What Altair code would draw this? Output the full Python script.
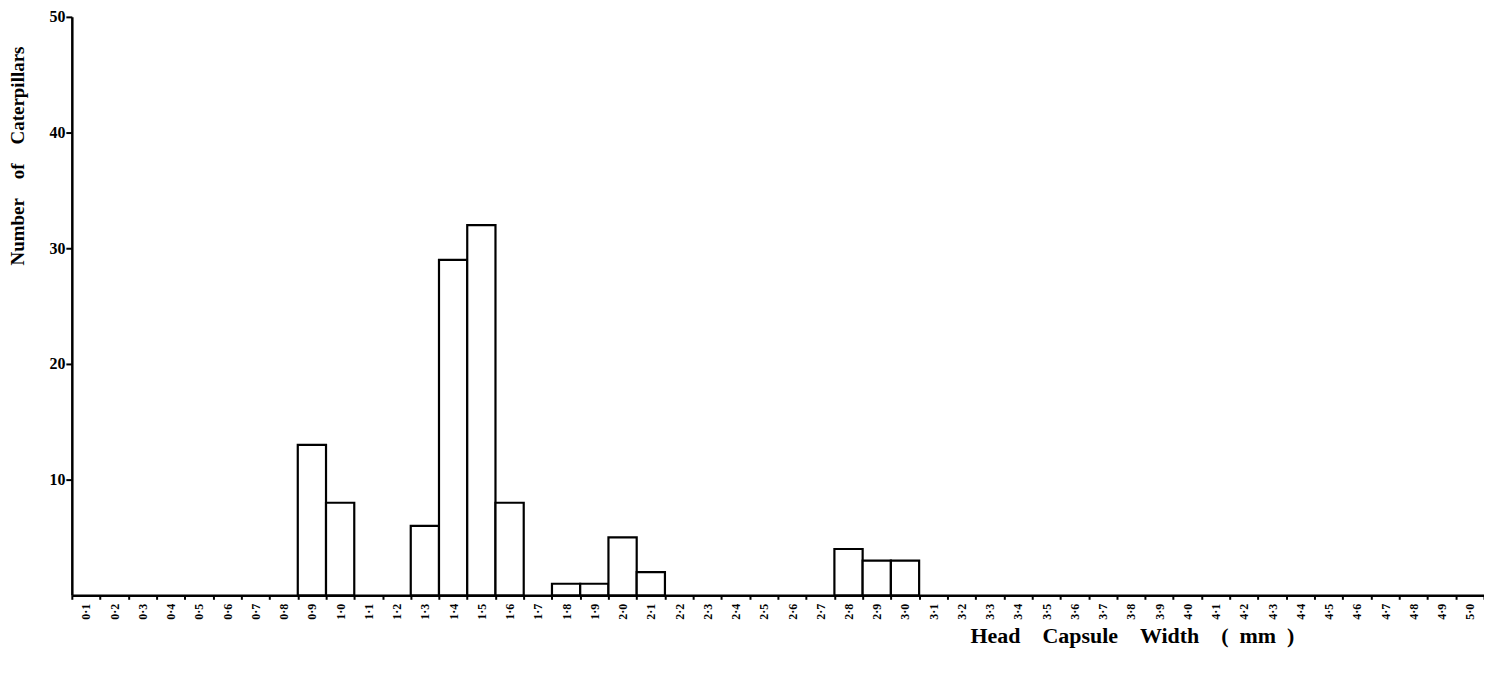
import altair as alt
import pandas as pd

widths = [f"{i // 10}\u00b7{i % 10}" for i in range(1, 51)]
counts = [0, 0, 0, 0, 0, 0, 0, 0, 13, 8,
          0, 0, 6, 29, 32, 8, 0, 1, 1, 5,
          2, 0, 0, 0, 0, 0, 0, 4, 3, 3,
          0, 0, 0, 0, 0, 0, 0, 0, 0, 0,
          0, 0, 0, 0, 0, 0, 0, 0, 0, 0]
y_ticks = [10, 20, 30, 40, 50]

df = pd.DataFrame({"width": widths, "count": counts})
nonzero = df[df["count"] > 0]

FONT = "Liberation Serif"
NB = "\u00a0"

bars = alt.Chart(nonzero).mark_bar(
    fill="white", stroke="black", strokeWidth=2.2
).encode(
    x=alt.X(
        "width:N",
        sort=widths,
        scale=alt.Scale(domain=widths, paddingInner=0, paddingOuter=0),
        axis=alt.Axis(
            title=f"Head{NB*4}Capsule{NB*4}Width{NB*4}({NB*2}mm{NB*2})",
            titleFont=FONT, titleFontSize=22, titleFontWeight="bold",
            titleX=1063, titleY=40, titleAnchor="middle", titleAlign="center",
            titleBaseline="middle",
            labelAngle=270, labelFont=FONT, labelFontSize=12,
            labelFontWeight="bold", labelColor="black", labelPadding=4,
            tickBand="extent", tickSize=4, tickWidth=2, tickColor="black",
            domainColor="black", domainWidth=2.5,
        ),
    ),
    y=alt.Y(
        "count:Q",
        scale=alt.Scale(domain=[0, 50], nice=False),
        axis=alt.Axis(
            title=f"Number{NB*4}of{NB*4}Caterpillars",
            titleFont=FONT, titleFontSize=19, titleFontWeight="bold",
            titleAngle=270, titleX=-54, titleY=139,
            titleAlign="center", titleBaseline="middle",
            values=y_ticks, labelFont=FONT, labelFontSize=16,
            labelFontWeight="bold", labelColor="black", labelPadding=1,
            tickSize=6, tickWidth=2, tickColor="black",
            domainColor="black", domainWidth=2.5, grid=False,
        ),
    ),
)

chart = bars.properties(
    width=1416, height=580,
    background="white",
    autosize=alt.AutoSizeParams(type="none"),
    padding={"left": 64, "top": 8, "right": 0, "bottom": 70},
).configure_view(stroke=None)

chart.save("out.html", embed_options={"renderer": "svg", "actions": False})
